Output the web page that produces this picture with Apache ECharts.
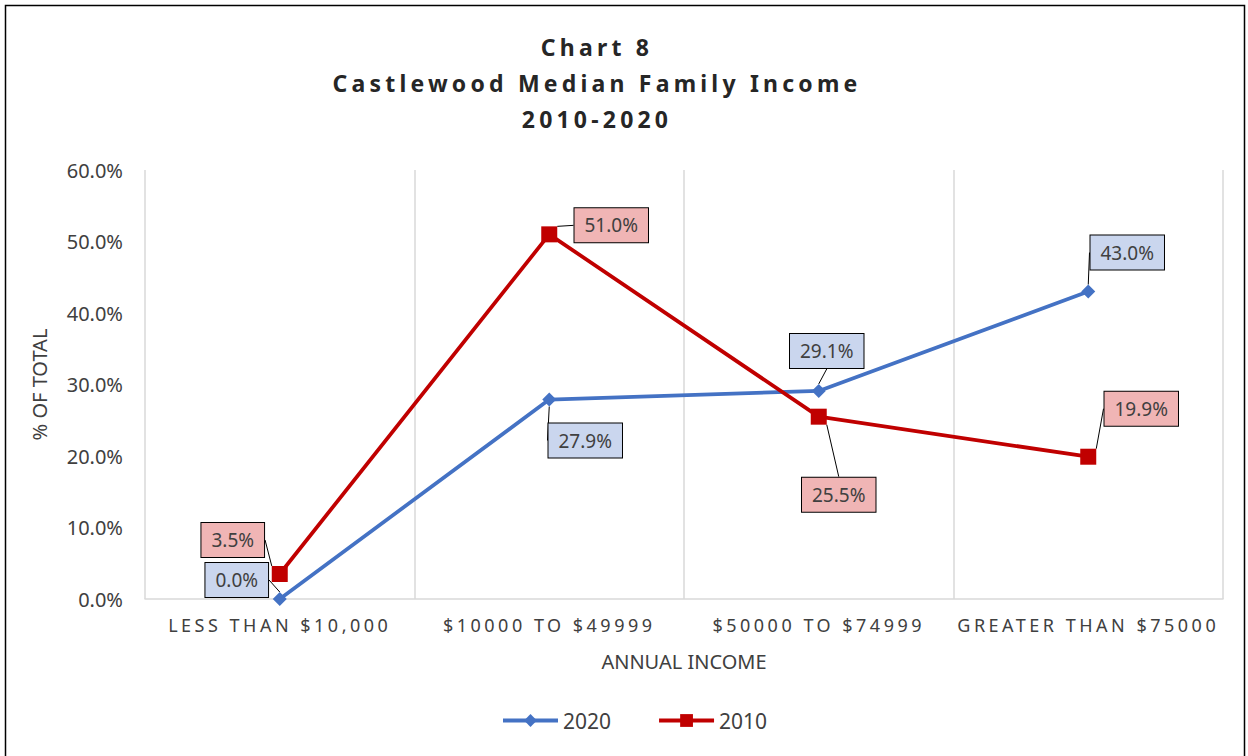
<!DOCTYPE html>
<html>
<head>
<meta charset="utf-8">
<script src="https://cdn.jsdelivr.net/npm/echarts@6/dist/echarts.min.js"></script>
<style>
  html, body { margin: 0; padding: 0; background: #fff; }
  #chart { width: 1248px; height: 756px; }
</style>
</head>
<body>
<div id="chart"></div>
<script>
// Income brackets and share of families per bracket (%)
const categories = ['LESS THAN $10,000', '$10000 TO $49999', '$50000 TO $74999', 'GREATER THAN $75000'];
const values2020 = [0.0, 27.9, 29.1, 43.0];
const values2010 = [3.5, 51.0, 25.5, 19.9];
const yTicks = [0, 10, 20, 30, 40, 50, 60];
const titleLines = ['Chart 8', 'Castlewood Median Family Income', '2010-2020'];

// Callout offsets (label centre relative to its point), in pixels
const offsets2020 = [[-43, -19], [36, 41], [8, -40], [39, -39]];
const offsets2010 = [[-47, -34], [62, -9], [20, 78], [53, -48]];

const BLUE = '#4472C4';
const RED = '#C00000';
const FONT = 'Noto Sans';

const chart = echarts.init(document.getElementById('chart'), null, { renderer: 'svg' });

function calloutLabel(fill) {
  return {
    show: true,
    position: 'inside',
    formatter: p => p.value.toFixed(1) + '%',
    fontFamily: FONT,
    fontSize: 19,
    color: '#404040',
    backgroundColor: fill,
    borderColor: '#000',
    borderWidth: 1,
    padding: [8, 10, 7, 10]
  };
}

chart.setOption({
  animation: false,
  backgroundColor: '#fff',
  title: {
    text: titleLines.join('\n'),
    left: 592,
    textAlign: 'center',
    top: 24,
    textStyle: {
      fontFamily: FONT,
      fontSize: 23,
      fontWeight: 'bold',
      color: '#262626',
      lineHeight: 36
    }
  },
  graphic: [{
    type: 'rect',
    shape: { x: 5.5, y: 5.5, width: 1239, height: 800 },
    style: { fill: 'none', stroke: '#000', lineWidth: 1.5 },
    silent: true,
    z: -1
  }],
  legend: {
    bottom: 20,
    left: 496,
    itemGap: 46,
    itemWidth: 55,
    itemHeight: 16,
    lineStyle: { width: 4 },
    textStyle: { fontFamily: FONT, fontSize: 21, color: '#404040' },
    data: ['2020', '2010']
  },
  grid: { left: 145, right: 25, top: 170, bottom: 157 },
  xAxis: {
    type: 'category',
    data: categories,
    boundaryGap: true,
    name: 'ANNUAL INCOME',
    nameLocation: 'middle',
    nameGap: 52,
    nameTextStyle: { fontFamily: FONT, fontSize: 20, color: '#404040' },
    axisLine: { show: true, lineStyle: { color: '#D9D9D9', width: 1.5 } },
    axisTick: { show: false },
    axisLabel: { margin: 17, fontFamily: FONT, fontSize: 18, color: '#404040' },
    splitLine: { show: true, lineStyle: { color: '#D9D9D9', width: 1.5 } }
  },
  yAxis: {
    type: 'value',
    min: yTicks[0],
    max: yTicks[yTicks.length - 1],
    interval: 10,
    name: '% OF TOTAL',
    nameLocation: 'middle',
    nameGap: 96,
    nameTextStyle: { fontFamily: FONT, fontSize: 20, color: '#404040' },
    axisLine: { show: false },
    axisTick: { show: false },
    axisLabel: {
      margin: 22,
      fontFamily: FONT,
      fontSize: 20,
      color: '#404040',
      formatter: v => v.toFixed(1) + '%'
    },
    splitLine: { show: false }
  },
  series: [
    {
      name: '2020',
      type: 'line',
      data: values2020,
      color: BLUE,
      symbol: 'diamond',
      symbolSize: 14,
      lineStyle: { width: 3.75, color: BLUE },
      itemStyle: { color: BLUE },
      label: calloutLabel('#CAD6EE'),
      labelLine: { show: true, lineStyle: { color: '#000', width: 1 } },
      labelLayout: p => ({ dx: offsets2020[p.dataIndex][0], dy: offsets2020[p.dataIndex][1] }),
      z: 3
    },
    {
      name: '2010',
      type: 'line',
      data: values2010,
      color: RED,
      symbol: 'rect',
      symbolSize: 16,
      lineStyle: { width: 3.75, color: RED },
      itemStyle: { color: RED },
      label: calloutLabel('#F0B5B5'),
      labelLine: { show: true, lineStyle: { color: '#000', width: 1 } },
      labelLayout: p => ({ dx: offsets2010[p.dataIndex][0], dy: offsets2010[p.dataIndex][1] }),
      z: 4
    }
  ]
});

// Tracked lettering for the title and the bracket names
function applyTracking() {
  const texts = document.querySelectorAll('#chart svg text');
  texts.forEach(t => {
    const s = t.textContent;
    if (titleLines.indexOf(s) >= 0) {
      t.style.letterSpacing = '4.2px';
    } else if (categories.indexOf(s) >= 0) {
      t.style.letterSpacing = '3.5px';
    }
  });
}
applyTracking();
chart.on('finished', applyTracking);
</script>
</body>
</html>
